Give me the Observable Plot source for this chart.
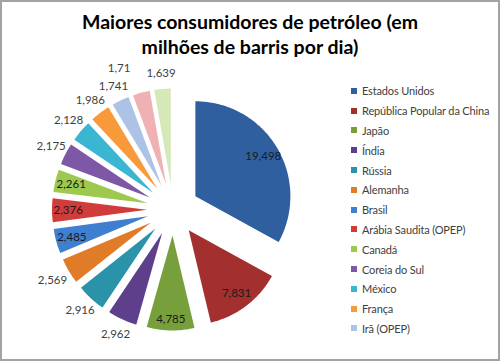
<!DOCTYPE html>
<html>
<head>
<meta charset="utf-8">
<script src="https://cdn.jsdelivr.net/npm/d3@7"></script>
<script src="https://cdn.jsdelivr.net/npm/@observablehq/plot@0.6"></script>
<style>
  html, body { margin: 0; padding: 0; background: #fff; }
  #frame { position: relative; width: 500px; height: 361px; overflow: hidden; font-family: Lato, "Open Sans", sans-serif; }
  #border { position: absolute; left: 0; top: 0; width: 500px; height: 361px; box-sizing: border-box; border: 2px solid #a3a3a3; pointer-events: none; }
  #title { height: 62px; box-sizing: border-box; padding-top: 9px; text-align: center; font-size: 19.5px; line-height: 25px; font-weight: 700; color: #000; }
  #chart svg { display: block; }
  #legend { position: absolute; left: 351px; top: 81px; font-size: 11px; letter-spacing: -0.15px; color: #404040; white-space: nowrap; }
  #legend .row { height: 19.8px; display: flex; align-items: center; }
  #legend .sw { width: 6px; height: 6px; margin-right: 5px; flex: none; }
</style>
</head>
<body>
<div id="frame">
  <div id="title">Maiores consumidores de petróleo (em<br>milhões de barris por dia)</div>
  <div id="chart"></div>
  <div id="legend"></div>
  <div id="border"></div>
</div>
<script>
const countries = ["Estados Unidos", "República Popular da China", "Japão", "Índia", "Rússia", "Alemanha", "Brasil", "Arábia Saudita (OPEP)", "Canadá", "Coreia do Sul", "México", "França", "Irã (OPEP)", "Reino Unido", "Itália"];
const values = [19.498, 7.831, 4.785, 2.962, 2.916, 2.569, 2.485, 2.376, 2.261, 2.175, 2.128, 1.986, 1.741, 1.71, 1.639];
const colors = ["#2f5f9e", "#a3302f", "#77a03c", "#5e3f8b", "#2b93a9", "#e07b27", "#3f7fcf", "#d13c3a", "#9dc94f", "#7d58a7", "#3ab6d2", "#f99a3a", "#adc3e6", "#efb1b3", "#d5e8b8"];
const legendShown = 13;

// geometry (unit radius pie)
const explode = 26 / 95;
const total = d3.sum(values);
let cum = 0;
const slices = values.map((v, i) => {
  const a0 = cum / total * 2 * Math.PI;
  cum += v;
  const a1 = cum / total * 2 * Math.PI;
  const mid = (a0 + a1) / 2;
  return {name: countries[i], value: v, a0, a1, mid, ox: explode * Math.sin(mid), oy: explode * Math.cos(mid), i};
});

const outline = [];
for (const s of slices) {
  outline.push({name: s.name, x: s.ox, y: s.oy});
  const n = Math.ceil((s.a1 - s.a0) / (Math.PI / 180)) + 1;
  for (let k = 0; k <= n; k++) {
    const t = s.a0 + (s.a1 - s.a0) * k / n;
    outline.push({name: s.name, x: s.ox + Math.sin(t), y: s.oy + Math.cos(t)});
  }
  outline.push({name: s.name, x: s.ox, y: s.oy});
}

const inside = new Set([0, 1, 2, 6, 7, 8]);
const labels = slices.map(s => {
  let r = inside.has(s.i) ? 0.83 : 1.17;
  let a = s.mid;
  if (s.i === 13) { r = 1.32; a -= 0.12; }
  if (s.i === 2) r = 0.88;
  if (s.i === 5) r = 1.2;
  return {
    x: s.ox + r * Math.sin(a),
    y: s.oy + r * Math.cos(a),
    text: String(s.value).replace(".", ","),
    inside: inside.has(s.i)
  };
});

const plot = Plot.plot({
  width: 500,
  height: 299,
  margin: 0,
  x: {domain: [-172.5 / 95, 327.5 / 95], axis: null},
  y: {domain: [-152 / 95, 147 / 95], axis: null},
  color: {domain: countries, range: colors},
  style: {fontFamily: "Lato, 'Open Sans', sans-serif", fontSize: "11px", background: "transparent"},
  marks: [
    Plot.line(outline, {x: "x", y: "y", z: "name", fill: "name", stroke: "none", curve: "linear"}),
    Plot.text(labels, {x: "x", y: "y", text: "text", fill: d => d.inside ? "#1a1a1a" : "#404040", fontSize: 11.5})
  ]
});
document.getElementById("chart").appendChild(plot);

const legend = document.getElementById("legend");
countries.slice(0, legendShown).forEach((c, i) => {
  const row = document.createElement("div");
  row.className = "row";
  const sw = document.createElement("div");
  sw.className = "sw";
  sw.style.background = colors[i];
  const t = document.createElement("span");
  t.textContent = c;
  row.appendChild(sw);
  row.appendChild(t);
  legend.appendChild(row);
});
</script>
</body>
</html>
